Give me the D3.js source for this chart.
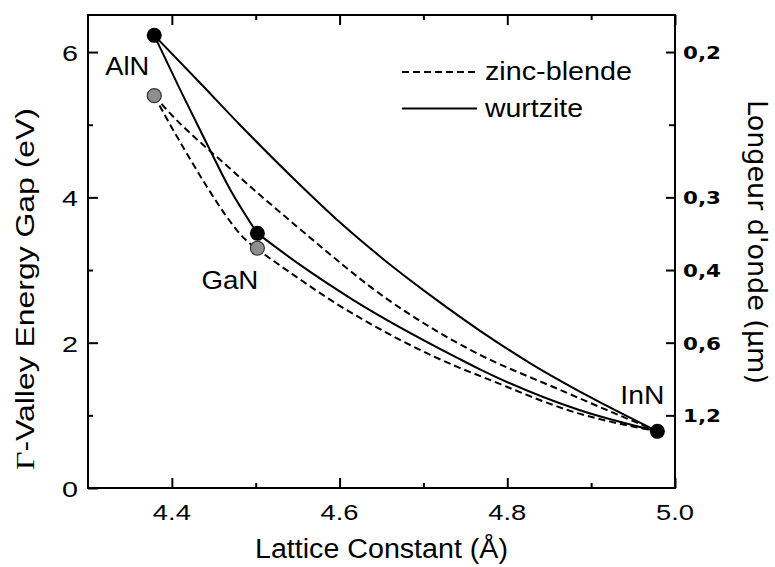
<!DOCTYPE html>
<html>
<head>
<meta charset="utf-8">
<script src="https://cdn.jsdelivr.net/npm/d3@7"></script>
<style>
  body { margin: 0; background: #fff; }
  svg { display: block; }
</style>
</head>
<body>
<div id="chart"></div>
<script>
// end points (binary nitrides)
const compounds = ['AlN', 'GaN', 'InN'];
const latticeConst = [4.379, 4.502, 4.979];
const gapWurtzite = [6.23, 3.505, 0.78];
const gapZincBlende = [5.40, 3.30, 0.78];

// alloy curves: [lattice constant (A), gap (eV)]
const wzAlGaN = [[4.379, 6.23], [4.410, 5.48], [4.440, 4.78], [4.469, 4.12], [4.502, 3.505]];
const wzAlInN = [[4.379, 6.23], [4.434, 5.57], [4.481, 5.00], [4.553, 4.17], [4.600, 3.66],
                 [4.650, 3.17], [4.712, 2.62], [4.768, 2.16], [4.827, 1.72], [4.899, 1.25],
                 [4.979, 0.78]];
const wzGaInN = [[4.502, 3.505], [4.553, 3.07], [4.616, 2.59], [4.744, 1.77], [4.768, 1.63],
                 [4.884, 1.08], [4.979, 0.78]];
const zbAlGaN = [[4.379, 5.40], [4.395, 5.06], [4.415, 4.66], [4.440, 4.18], [4.465, 3.74],
                 [4.485, 3.45], [4.500, 3.30]];
const zbAlInN = [[4.379, 5.40], [4.392, 5.23], [4.470, 4.39], [4.549, 3.60], [4.658, 2.59],
                 [4.756, 1.90], [4.863, 1.35], [4.979, 0.78]];
const zbGaInN = [[4.500, 3.30], [4.553, 2.87], [4.589, 2.59], [4.672, 2.04], [4.744, 1.65],
                 [4.768, 1.54], [4.884, 1.03], [4.979, 0.78]];

// ticks
const xTicks = [4.4, 4.6, 4.8, 5.0];
const xTickLabels = ['4.4', '4.6', '4.8', '5.0'];
const xMinorTicks = [4.5, 4.7, 4.9];
const yTicks = [0, 2, 4, 6];
const yMinorTicks = [1, 3, 5];
const waveTicks = [0.2, 0.3, 0.4, 0.6, 1.2];
const waveLabels = ['0,2', '0,3', '0,4', '0,6', '1,2'];
const waveMinorTicks = [0.24];

const W = 775, H = 567;
const pLeft = 88, pRight = 675, pTop = 15, pBottom = 488;
const helv = 'Liberation Sans, Arial, Helvetica, sans-serif';

const svg = d3.select('#chart').append('svg')
    .attr('width', W).attr('height', H);

const x = d3.scaleLinear().domain([4.3, 5.0]).range([pLeft, pRight]);
const y = d3.scaleLinear().domain([0, 6.51]).range([pBottom, pTop]);
// wavelength (um) -> energy axis position
const yWave = w => y(1.2 / w);

// frame
svg.append('rect')
    .attr('x', pLeft).attr('y', pTop)
    .attr('width', pRight - pLeft).attr('height', pBottom - pTop)
    .attr('fill', 'none').attr('stroke', '#000').attr('stroke-width', 2);

function ticks(axis, values, size, pos) {
    const g = svg.append('g')
        .attr('transform', pos)
        .call(axis.tickValues(values).tickSize(size).tickFormat(''));
    g.select('.domain').remove();
    g.selectAll('line').attr('stroke-width', 2);
    return g;
}

// bottom and top
ticks(d3.axisBottom(x), xTicks, -10, `translate(0,${pBottom})`);
ticks(d3.axisBottom(x), xMinorTicks, -5, `translate(0,${pBottom})`);
ticks(d3.axisTop(x), xTicks, -10, `translate(0,${pTop})`);
ticks(d3.axisTop(x), xMinorTicks, -5, `translate(0,${pTop})`);
// left
ticks(d3.axisLeft(y), yTicks, -10, `translate(${pLeft},0)`);
ticks(d3.axisLeft(y), yMinorTicks, -5, `translate(${pLeft},0)`);
// right (wavelength)
ticks(d3.axisRight(y), waveTicks.map(w => 1.2 / w), -9, `translate(${pRight},0)`);
ticks(d3.axisRight(y), waveMinorTicks.map(w => 1.2 / w), -6, `translate(${pRight},0)`);

// tick labels
svg.append('g').selectAll('text')
    .data(xTicks)
    .enter().append('text')
    .attr('x', d => x(d))
    .attr('y', 520)
    .attr('text-anchor', 'middle')
    .attr('font-family', helv)
    .attr('font-size', 22)
    .attr('textLength', 38)
    .attr('lengthAdjust', 'spacingAndGlyphs')
    .text((d, i) => xTickLabels[i]);

svg.append('g').selectAll('text')
    .data(yTicks)
    .enter().append('text')
    .attr('x', 78)
    .attr('y', d => y(d) + 9)
    .attr('text-anchor', 'end')
    .attr('font-family', helv)
    .attr('font-size', 22)
    .attr('textLength', 16)
    .attr('lengthAdjust', 'spacingAndGlyphs')
    .text(d => d);

svg.append('g').selectAll('text')
    .data(waveTicks)
    .enter().append('text')
    .attr('x', 683)
    .attr('y', d => yWave(d) + 7)
    .attr('font-family', 'DejaVu Sans, Verdana, sans-serif')
    .attr('font-weight', 'bold')
    .attr('font-size', 18)
    .attr('textLength', 38)
    .attr('lengthAdjust', 'spacingAndGlyphs')
    .text((d, i) => waveLabels[i]);

// axis titles
svg.append('text')
    .attr('x', 381.5).attr('y', 558)
    .attr('text-anchor', 'middle')
    .attr('font-family', helv)
    .attr('font-size', 27)
    .attr('textLength', 253)
    .attr('lengthAdjust', 'spacingAndGlyphs')
    .text('Lattice Constant (Å)');

const yTitle = svg.append('text')
    .attr('transform', 'translate(34,289) rotate(-90)')
    .attr('text-anchor', 'middle')
    .attr('font-family', helv)
    .attr('font-size', 26)
    .attr('textLength', 362)
    .attr('lengthAdjust', 'spacingAndGlyphs');
yTitle.append('tspan').attr('font-family', 'Liberation Serif, Times New Roman, serif').text('Γ');
yTitle.append('tspan').text('-Valley Energy Gap (eV)');

svg.append('text')
    .attr('transform', 'translate(748,242) rotate(90)')
    .attr('text-anchor', 'middle')
    .attr('font-family', 'DejaVu Sans, Verdana, sans-serif')
    .attr('font-size', 27)
    .text("Longeur d'onde (µm)");

// curves
const line = d3.line()
    .x(d => x(d[0]))
    .y(d => y(d[1]))
    .curve(d3.curveMonotoneX);

const curves = [
    { pts: zbAlGaN, dash: true }, { pts: zbAlInN, dash: true }, { pts: zbGaInN, dash: true },
    { pts: wzAlGaN, dash: false }, { pts: wzAlInN, dash: false }, { pts: wzGaInN, dash: false }
];
svg.append('g').selectAll('path')
    .data(curves)
    .enter().append('path')
    .attr('d', d => line(d.pts))
    .attr('fill', 'none')
    .attr('stroke', '#000')
    .attr('stroke-width', 2)
    .attr('stroke-dasharray', d => d.dash ? '7,4' : null);

// end-point markers
svg.append('g').selectAll('circle')
    .data(compounds.slice(0, 2))
    .enter().append('circle')
    .attr('cx', (d, i) => x(latticeConst[i]))
    .attr('cy', (d, i) => y(gapZincBlende[i]))
    .attr('r', 7)
    .attr('fill', '#8e8e8e')
    .attr('stroke', '#333')
    .attr('stroke-width', 1.2);

svg.append('g').selectAll('circle')
    .data(compounds)
    .enter().append('circle')
    .attr('cx', (d, i) => x(latticeConst[i]))
    .attr('cy', (d, i) => y(gapWurtzite[i]))
    .attr('r', 7.5)
    .attr('fill', '#000');

// compound labels
const labelOff = { AlN: [-49, 40, 44], GaN: [-56, 56, 57], InN: [-37, -27, 44] };
svg.append('g').selectAll('text')
    .data(compounds)
    .enter().append('text')
    .attr('x', (d, i) => x(latticeConst[i]) + labelOff[d][0])
    .attr('y', (d, i) => y(gapWurtzite[i]) + labelOff[d][1])
    .attr('font-family', helv)
    .attr('font-size', 26)
    .attr('textLength', d => labelOff[d][2])
    .attr('lengthAdjust', 'spacingAndGlyphs')
    .text(d => d);

// legend
const legend = [
    { name: 'zinc-blende', dash: true, len: 147 },
    { name: 'wurtzite', dash: false, len: 98 }
];
const lg = svg.append('g').selectAll('g')
    .data(legend)
    .enter().append('g')
    .attr('transform', (d, i) => `translate(0,${72 + i * 36.5})`);
lg.append('line')
    .attr('x1', 402).attr('x2', 477)
    .attr('stroke', '#000').attr('stroke-width', 2)
    .attr('stroke-dasharray', d => d.dash ? '7,4' : null);
lg.append('text')
    .attr('x', 485).attr('y', 8)
    .attr('font-family', helv)
    .attr('font-size', 25)
    .attr('textLength', d => d.len)
    .attr('lengthAdjust', 'spacingAndGlyphs')
    .text(d => d.name);
</script>
</body>
</html>
